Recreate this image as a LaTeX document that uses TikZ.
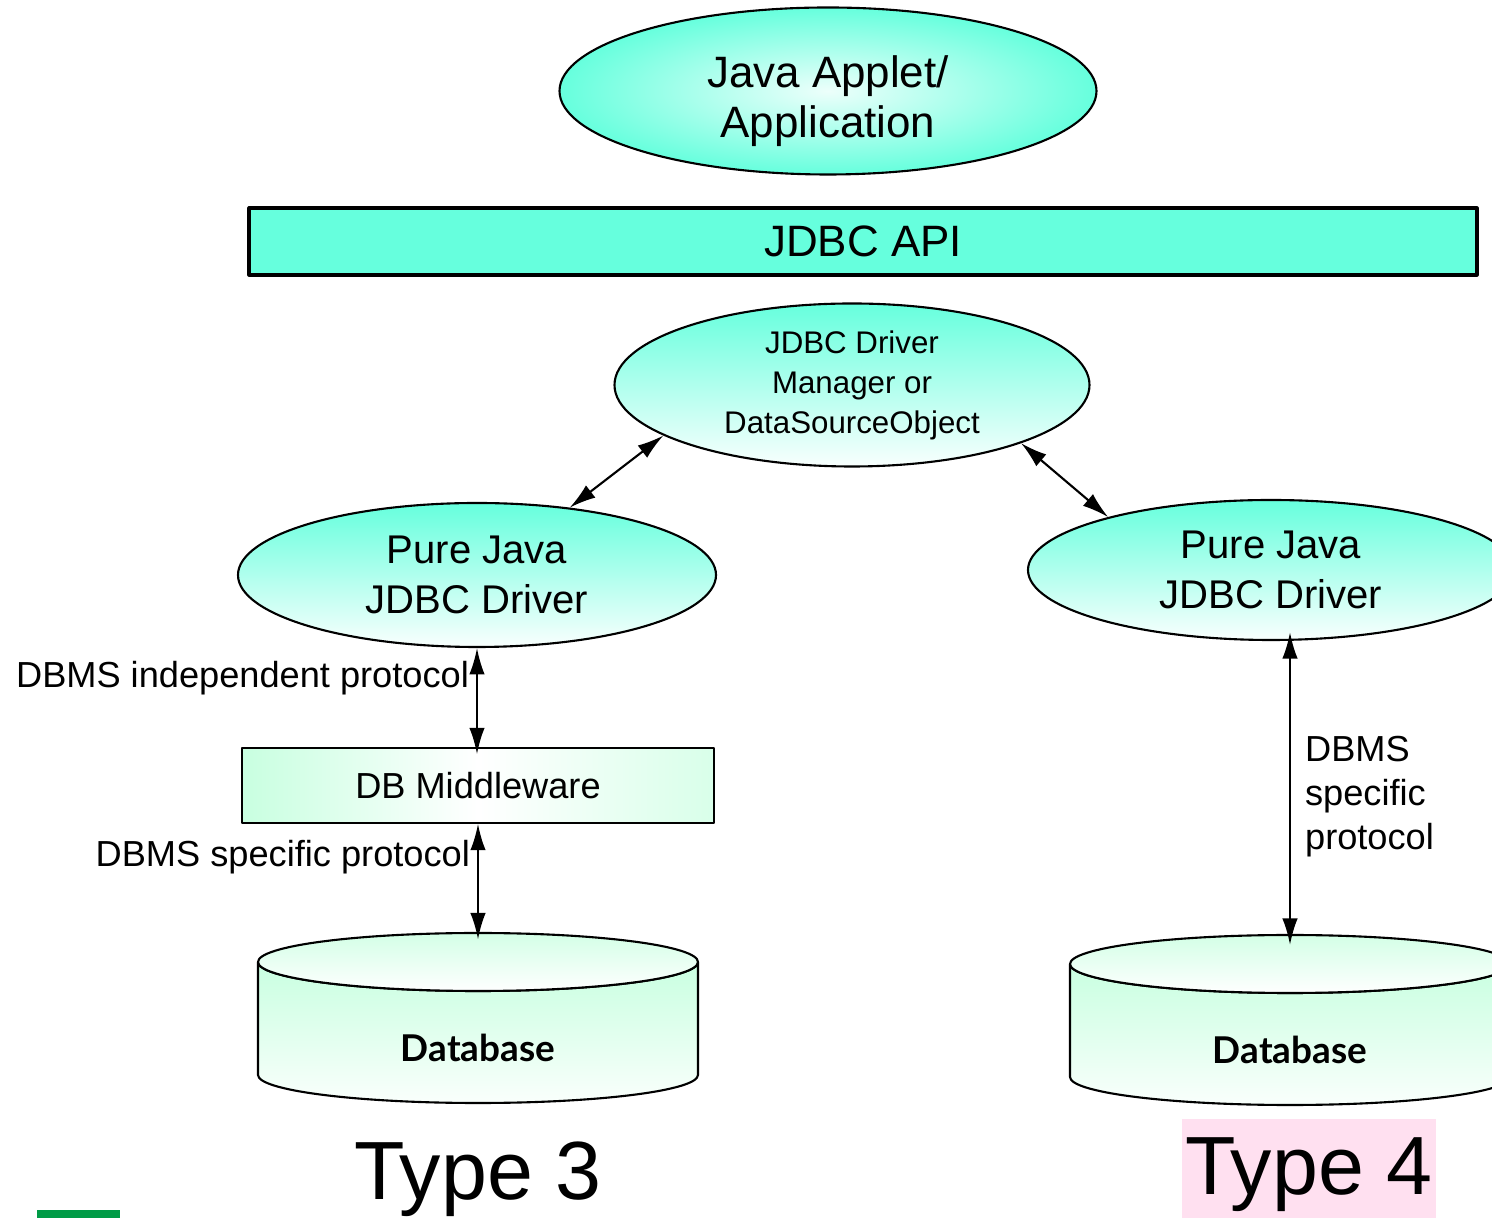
\documentclass[tikz,border=0pt]{standalone}
\usepackage{fontspec}
\setmainfont{Liberation Sans}
\newfontfamily\dbfont{Lato}
\usepackage{tikz}
\usetikzlibrary{arrows.meta,positioning,calc,shapes.geometric}

\definecolor{jdbcaqua}{RGB}{102,255,221}
\definecolor{dbmint}{RGB}{200,255,224}
\definecolor{typepink}{RGB}{255,224,240}
\definecolor{barGreen}{RGB}{0,155,70}

\newcommand{\drawDatabase}[2]{%
    % #1 : node name, #2 : centre of the cylinder
    \begin{scope}[shift={#2}]
        \node[minimum width=4.4cm, minimum height=1.7cm, inner sep=0pt] (#1) at (0,0) {};
        % body
        \draw[line width=0.6pt, top color=dbmint, bottom color=dbmint!10]
            (-2.2,0.56) -- (-2.2,-0.57)
            arc[start angle=180, end angle=360, x radius=2.2cm, y radius=0.28cm]
            -- (2.2,0.56)
            arc[start angle=0, end angle=-180, x radius=2.2cm, y radius=0.29cm] -- cycle;
        % lid
        \draw[line width=0.6pt, top color=dbmint!80, bottom color=white]
            (0,0.56) ellipse[x radius=2.2cm, y radius=0.29cm];
        \node[font=\dbfont\bfseries\fontsize{10.5}{12}\selectfont] (#1-txt) at (0,-0.3) {Database};
    \end{scope}
}

\begin{document}
\begin{tikzpicture}[ >={Latex[length=7.5pt,width=4.4pt]},
            line cap=round, line join=round,
            ovalnode/.style={ellipse, draw=black, line width=0.6pt, inner sep=0pt, align=center},
            drvnode/.style={ovalnode, top color=jdbcaqua, bottom color=jdbcaqua!4},
            mwbox/.style={draw=black, line width=0.5pt, inner sep=0pt,
                left color=dbmint, right color=dbmint!70, middle color=white},
            lbl/.style={font=\fontsize{10.3}{12.3}\selectfont, inner sep=2pt},
            typelbl/.style={font=\fontsize{23.5}{27}\selectfont, anchor=base},
            biarrow/.style={<->, line width=0.6pt}
        ]
        \useasboundingbox (0,0) rectangle (14.92,12.18);

        % (1) Application at the top and the API bar
        \node[ovalnode, minimum width=5.37cm, minimum height=1.67cm,
              shading=radial, inner color=jdbcaqua!12, outer color=jdbcaqua,
              font=\fontsize{12.5}{14.2}\selectfont] (app) at (8.28,11.27) {\rule{0pt}{15pt}Java Applet/\\Application};

        \node[draw=black, line width=0.9pt, fill=jdbcaqua, minimum width=12.28cm, minimum height=0.67cm,
              inner sep=0pt, font=\fontsize{12.5}{14}\selectfont] (api) at (8.63,9.765) {JDBC API};

        % (2) Driver manager
        \node[drvnode, minimum width=4.75cm, minimum height=1.63cm,
              font=\fontsize{8.9}{11.4}\selectfont] (mgr) at (8.52,8.33) {JDBC Driver\\Manager or\\DataSourceObject};

        % (3) Type 3 column
        \node[drvnode, minimum width=4.78cm, minimum height=1.44cm,
              font=\fontsize{11.4}{14.2}\selectfont] (drv3) at (4.77,6.43) {Pure Java\\JDBC Driver};

        \node[mwbox, minimum width=4.72cm, minimum height=0.75cm,
              font=\fontsize{10.3}{12}\selectfont] (mw) at (4.78,4.325) {DB Middleware};

        \drawDatabase{db3}{(4.78,2.00)}

        \draw[biarrow] (mgr.195) -- (drv3.36);
        \draw[biarrow, shorten >=-2pt] (drv3.south) -- (drv3.south |- mw.north)
            node[pos=0.3, left, lbl] {DBMS independent protocol};
        \draw[biarrow, shorten >=-2pt] (mw.south) -- (mw.south |- db3.north)
            node[pos=0.31, left, lbl] {DBMS specific protocol};

        \node[typelbl] (type3) at (4.78,0.18) {Type 3};

        % (4) Type 4 column
        \node[drvnode, minimum width=4.86cm, minimum height=1.40cm,
              font=\fontsize{11.4}{14.2}\selectfont] (drv4) at (12.71,6.48) {Pure Java\\JDBC Driver};

        \drawDatabase{db4}{(12.90,1.98)}

        \draw[biarrow] (mgr.341) -- (drv4.162);
        \draw[biarrow, shorten <=-2.5pt, shorten >=-3pt] (db4.north |- drv4.south) -- (db4.north)
            node[pos=0.53, right=2pt, lbl, align=left, font=\fontsize{10.3}{12.6}\selectfont] {DBMS\\specific\\protocol};

        \node[typelbl, fill=typepink, inner xsep=1pt, inner ysep=5.4pt] (type4) at (13.09,0.23) {Type 4};

        % (5) green mark at the bottom
        \fill[barGreen] (0.37,0) rectangle (1.20,0.08);

\end{tikzpicture}
\end{document}
